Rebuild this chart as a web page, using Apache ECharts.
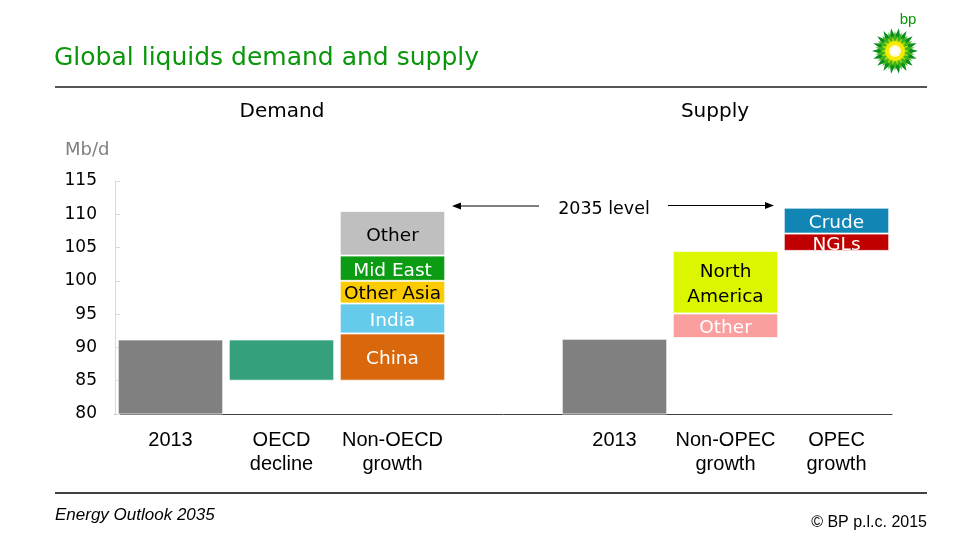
<!DOCTYPE html>
<html>
<head>
<meta charset="utf-8">
<script src="https://cdn.jsdelivr.net/npm/echarts@6/dist/echarts.min.js"></script>
<style>
html,body{margin:0;padding:0;background:#fff;}
#chart{width:960px;height:540px;}
</style>
</head>
<body>
<div id="chart"></div>
<script>
// ---- data ----
var categories = ['2013', 'OECD\ndecline', 'Non-OECD\ngrowth', '', '2013', 'Non-OPEC\ngrowth', 'OPEC\ngrowth'];
var yTicks = [80, 85, 90, 95, 100, 105, 110, 115];
// invisible floor under each floating bar
var floorLevel   = [null, 85.0, 85.0, null, null, 91.4, 104.5];
var level2013    = [91.2, null, null, null, 91.3, null, null];
var oecdDecline  = [null, 6.2, null, null, null, null, null];
var china        = [null, null, 7.1, null, null, null, null];
var india        = [null, null, 4.5, null, null, null, null];
var otherAsia    = [null, null, 3.4, null, null, null, null];
var midEast      = [null, null, 3.8, null, null, null, null];
var otherDemand  = [null, null, 6.7, null, null, null, null];
var otherSupply  = [null, null, null, null, null, 3.7, null];
var northAmerica = [null, null, null, null, null, 9.4, null];
var ngls         = [null, null, null, null, null, null, 2.6];
var crude        = [null, null, null, null, null, null, 3.9];

var chart = echarts.init(document.getElementById('chart'), null, {renderer: 'canvas'});
var WIDE = '"DejaVu Sans", Verdana, sans-serif';
var FONT = '"Liberation Sans", Arial, sans-serif';

function seg(name, data, color, label, labelColor) {
  return {
    name: name, type: 'bar', stack: 'all', data: data,
    barCategoryGap: '5%',
    itemStyle: {color: color, borderColor: 'rgba(255,255,255,0.75)', borderWidth: 1},
    label: label ? {
      show: true, position: 'inside', formatter: label, offset: [0, 2.5],
      color: labelColor, fontFamily: WIDE, fontSize: 18.5, lineHeight: 25
    } : {show: false},
    emphasis: {disabled: true},
    silent: true
  };
}

// BP helios logo points
function starPoints(cx, cy, rOut, rIn, n, rot) {
  var pts = [];
  for (var i = 0; i < n * 2; i++) {
    var r = i % 2 === 0 ? rOut : rIn;
    var a = rot + i * Math.PI / n;
    pts.push([cx + r * Math.cos(a), cy + r * Math.sin(a)]);
  }
  return pts;
}
var LX = 895, LY = 51;

var option = {
  animation: false,
  backgroundColor: '#fff',
  grid: {left: 115, right: 68, top: 181, bottom: 126, containLabel: false},
  xAxis: {
    type: 'category', data: categories,
    axisLine: {show: true, lineStyle: {color: '#404040', width: 1}},
    axisTick: {show: false},
    axisLabel: {color: '#000', fontFamily: FONT, fontSize: 20, lineHeight: 24, margin: 14, interval: 0}
  },
  yAxis: {
    type: 'value', min: yTicks[0], max: yTicks[yTicks.length - 1], interval: 5,
    splitLine: {show: false},
    axisLine: {show: true, lineStyle: {color: '#d9d9d9', width: 1}},
    axisTick: {show: true, inside: true, length: 5, lineStyle: {color: '#d9d9d9'}},
    axisLabel: {color: '#000', fontFamily: WIDE, fontSize: 17, margin: 18, padding: [4, 0, 0, 0]}
  },
  series: [
    {name: 'floor', type: 'bar', stack: 'all', data: floorLevel, barCategoryGap: '5%',
     itemStyle: {color: 'transparent'}, silent: true, emphasis: {disabled: true}},
    seg('2013', level2013, '#808080'),
    seg('OECD decline', oecdDecline, '#35a07c'),
    seg('China', china, '#d9670b', 'China', '#fff'),
    seg('India', india, '#66cbea', 'India', '#fff'),
    seg('Other Asia', otherAsia, '#fbcb00', 'Other Asia', '#000'),
    seg('Mid East', midEast, '#0c9c14', 'Mid East', '#fff'),
    seg('Other', otherDemand, '#bfbfbf', 'Other', '#000'),
    seg('Other supply', otherSupply, '#fa9e9e', 'Other', '#fff'),
    seg('North America', northAmerica, '#dcf500', 'North\nAmerica', '#000'),
    seg('NGLs', ngls, '#c00000', 'NGLs', '#fff'),
    seg('Crude', crude, '#1186b4', 'Crude', '#fff')
  ],
  graphic: [
    {type: 'text', x: 54, y: 58, style: {text: 'Global liquids demand and supply', fill: '#0a960a', font: '25px ' + WIDE, textVerticalAlign: 'middle'}},
    {type: 'line', shape: {x1: 55, y1: 87, x2: 927, y2: 87}, style: {stroke: '#555', lineWidth: 2}},
    {type: 'text', x: 282, y: 112, style: {text: 'Demand', fill: '#000', font: '20px ' + WIDE, textAlign: 'center', textVerticalAlign: 'middle'}},
    {type: 'text', x: 715, y: 112, style: {text: 'Supply', fill: '#000', font: '20px ' + WIDE, textAlign: 'center', textVerticalAlign: 'middle'}},
    {type: 'text', x: 65, y: 150, style: {text: 'Mb/d', fill: '#7f7f7f', font: '18px ' + WIDE, textVerticalAlign: 'middle'}},
    // 2035 level annotation
    {type: 'text', x: 604, y: 209, style: {text: '2035 level', fill: '#000', font: '17.5px ' + WIDE, textAlign: 'center', textVerticalAlign: 'middle'}},
    {type: 'line', shape: {x1: 539, y1: 206, x2: 458, y2: 206}, style: {stroke: '#000', lineWidth: 1}},
    {type: 'polygon', shape: {points: [[452, 206], [461, 202.5], [461, 209.5]]}, style: {fill: '#000'}},
    {type: 'line', shape: {x1: 668, y1: 205.5, x2: 767, y2: 205.5}, style: {stroke: '#000', lineWidth: 1}},
    {type: 'polygon', shape: {points: [[774, 205.5], [765, 202], [765, 209]]}, style: {fill: '#000'}},
    // footer
    {type: 'line', shape: {x1: 55, y1: 493, x2: 927, y2: 493}, style: {stroke: '#000', lineWidth: 1.5}},
    {type: 'text', x: 55, y: 515, style: {text: 'Energy Outlook 2035', fill: '#000', font: 'italic 17px ' + FONT, textVerticalAlign: 'middle'}},
    {type: 'text', x: 927, y: 523, style: {text: '\u00A9 BP p.l.c. 2015', fill: '#000', font: '16px ' + FONT, textAlign: 'right', textVerticalAlign: 'middle'}},
    // bp logo
    {type: 'text', x: 908, y: 20, style: {text: 'bp', fill: '#0a960a', font: '15px ' + FONT, textAlign: 'center', textVerticalAlign: 'middle'}},
    {type: 'polygon', shape: {points: starPoints(LX, LY, 23, 15, 18, 0)}, style: {fill: '#0a8f1e'}},
    {type: 'polygon', shape: {points: starPoints(LX, LY, 20, 12, 18, Math.PI / 18)}, style: {fill: '#3fb51d'}},
    {type: 'polygon', shape: {points: starPoints(LX, LY, 15, 9, 18, 0)}, style: {fill: '#a8d80f'}},
    {type: 'circle', shape: {cx: LX, cy: LY, r: 10}, style: {fill: '#f7ea00'}},
    {type: 'circle', shape: {cx: LX, cy: LY, r: 6}, style: {fill: '#fffbd0'}},
    {type: 'circle', shape: {cx: LX, cy: LY, r: 3.5}, style: {fill: '#fff'}}
  ]
};
chart.setOption(option);
</script>
</body>
</html>
